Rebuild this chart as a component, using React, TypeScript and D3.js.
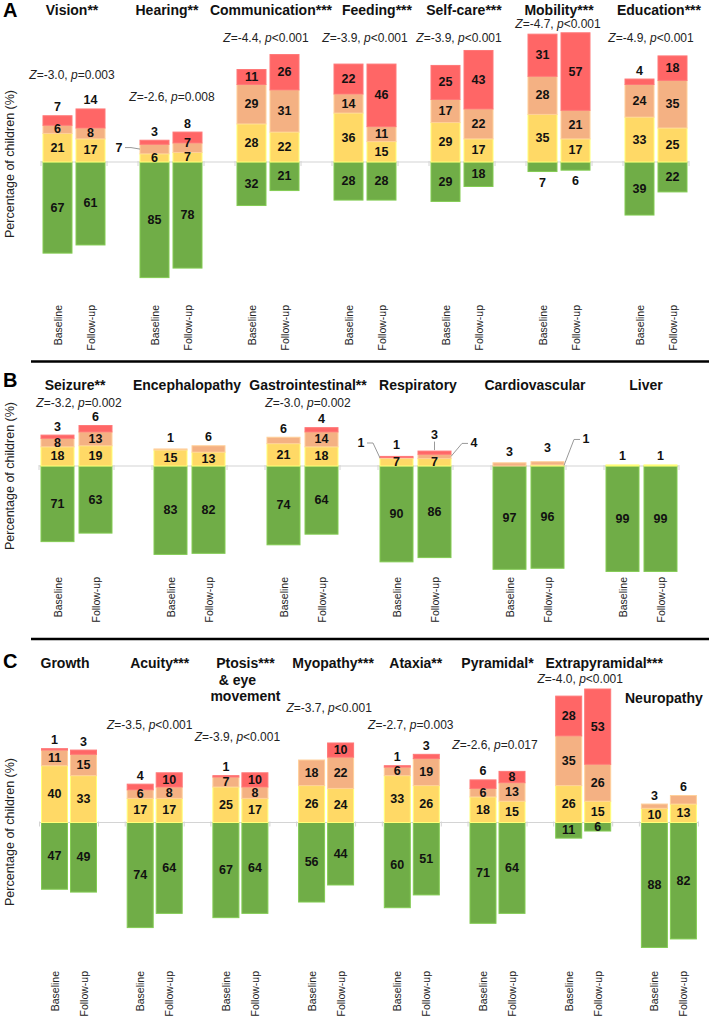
import React from 'react';
import * as d3 from 'd3';

// ---------------- DATA ----------------
const PERIODS = ['Baseline', 'Follow-up'];
const LEVEL_COLORS = ['#70ad47', '#ffd966', '#f4b183', '#ff6666']; // none, mild, moderate, severe

// Panel A
const A_TITLES = ['Vision**', 'Hearing**', 'Communication***', 'Feeding***', 'Self-care***', 'Mobility***', 'Education***'];
const A_BASELINE = [[67, 21, 6, 7], [85, 6, 7, 3], [32, 28, 29, 11], [28, 36, 14, 22], [29, 29, 17, 25], [7, 35, 28, 31], [39, 33, 24, 4]];
const A_FOLLOWUP = [[61, 17, 8, 14], [78, 7, 7, 8], [21, 22, 31, 26], [28, 15, 11, 46], [18, 17, 22, 43], [6, 17, 21, 57], [22, 25, 35, 18]];
const A_Z = ['-3.0', '-2.6', '-4.4', '-3.9', '-3.9', '-4.7', '-4.9'];
const A_P = ['=0.003', '=0.008', '<0.001', '<0.001', '<0.001', '<0.001', '<0.001'];

// Panel B
const B_TITLES = ['Seizure**', 'Encephalopathy', 'Gastrointestinal**', 'Respiratory', 'Cardiovascular', 'Liver'];
const B_BASELINE = [[71, 18, 8, 3], [83, 15, 1, 0], [74, 21, 6, 0], [90, 7, 1, 1], [97, 0, 3, 0], [99, 1, 0, 0]];
const B_FOLLOWUP = [[63, 19, 13, 6], [82, 13, 6, 0], [64, 18, 14, 4], [86, 7, 4, 3], [96, 1, 3, 0], [99, 1, 0, 0]];
const B_Z = ['-3.2', null, '-3.0', null, null, null];
const B_P = ['=0.002', null, '=0.002', null, null, null];

// Panel C
const C_TITLES = ['Growth', 'Acuity***', 'Ptosis***\n& eye\nmovement', 'Myopathy***', 'Ataxia**', 'Pyramidal*', 'Extrapyramidal***', 'Neuropathy'];
const C_BASELINE = [[47, 40, 11, 1], [74, 17, 6, 4], [67, 25, 7, 1], [56, 26, 18, 0], [60, 33, 6, 1], [71, 18, 6, 6], [11, 26, 35, 28], [88, 10, 3, 0]];
const C_FOLLOWUP = [[49, 33, 15, 3], [64, 17, 8, 10], [64, 17, 8, 10], [44, 24, 22, 10], [51, 26, 19, 3], [64, 15, 13, 8], [6, 15, 26, 53], [82, 13, 6, 0]];
const C_Z = [null, '-3.5', '-3.9', '-3.7', '-2.7', '-2.6', '-4.0', null];
const C_P = [null, '<0.001', '<0.001', '<0.001', '=0.003', '=0.017', '<0.001', null];

const Y_TITLE = 'Percentage of children (%)';

// ---------------- LAYOUT (positions / styles) ----------------
type Place = { mode: 'in' | 'above' | 'below' | 'left' | 'right'; dx?: number; dy?: number; extra?: number; stem?: boolean };
const ABOVE: Place = { mode: 'above' };
const PLACEMENT: Record<string, Place> = {
  'A:0:0:3': ABOVE, 'A:0:1:3': ABOVE,
  'A:1:0:3': ABOVE, 'A:1:0:2': { mode: 'left', dx: -21, dy: -1.5 }, 'A:1:1:3': ABOVE,
  'A:1:1:2': { mode: 'in', dy: -4.5 },
  'A:5:0:0': { mode: 'below' }, 'A:5:1:0': { mode: 'below' },
  'A:6:0:3': ABOVE,
  'B:0:0:3': ABOVE, 'B:0:1:3': ABOVE,
  'B:1:0:2': { mode: 'above', extra: 2 }, 'B:1:1:2': ABOVE,
  'B:2:0:2': ABOVE, 'B:2:1:3': ABOVE,
  'B:3:0:3': { mode: 'above', extra: 3 }, 'B:3:0:2': { mode: 'left', dx: -19, dy: -15 },
  'B:3:1:3': { mode: 'above', extra: 8, stem: true }, 'B:3:1:2': { mode: 'right', dx: 23, dy: -13 },
  'B:4:0:2': { mode: 'above', extra: 2 }, 'B:4:1:2': { mode: 'above', extra: 5 }, 'B:4:1:1': { mode: 'right', dx: 22, dy: -26 },
  'B:5:0:1': ABOVE, 'B:5:1:1': ABOVE,
  'C:0:0:3': ABOVE, 'C:0:1:3': ABOVE, 'C:1:0:3': ABOVE, 'C:2:0:3': ABOVE,
  'C:4:0:3': ABOVE, 'C:4:1:3': ABOVE, 'C:5:0:3': ABOVE, 'C:7:0:2': ABOVE, 'C:7:1:2': ABOVE,
};

interface PanelCfg {
  id: string;
  titles: string[];
  baseline: number[][];
  followup: number[][];
  z: (string | null)[];
  p: (string | null)[];
  letterY: number;
  titleY: number[];
  titleDx: number[];
  zY: number[];
  zDx: number[];
  zeroY: number;
  k: number;
  first: number;
  step: number;
  barW: number;
  gap: number;
  tickTop: number;
  axisTitleY: number;
}

const PANELS: PanelCfg[] = [
  {
    id: 'A', titles: A_TITLES, baseline: A_BASELINE, followup: A_FOLLOWUP, z: A_Z, p: A_P,
    letterY: 17, titleY: [15, 15, 15, 15, 15, 15, 15], titleDx: [-2, -4, 3, 12, 2, 0, 3],
    zY: [79, 101, 42, 42, 42, 28, 42], zDx: [-2, 1, -2, 0, -3, -1, -5],
    zeroY: 162, k: 1.36, first: 74, step: 97, barW: 29, gap: 4, tickTop: 305, axisTitleY: 164,
  },
  {
    id: 'B', titles: B_TITLES, baseline: B_BASELINE, followup: B_FOLLOWUP, z: B_Z, p: B_P,
    letterY: 387, titleY: [390, 390, 390, 390, 390, 390], titleDx: [-1.5, -2.5, 5.5, 2.5, 6.5, 4.5],
    zY: [407, 0, 407, 0, 0, 0], zDx: [2.5, 0, 5.5, 0, 0, 0],
    zeroY: 466, k: 1.065, first: 76.5, step: 113, barW: 33, gap: 5, tickTop: 577, axisTitleY: 476,
  },
  {
    id: 'C', titles: C_TITLES, baseline: C_BASELINE, followup: C_FOLLOWUP, z: C_Z, p: C_P,
    letterY: 668, titleY: [668, 668, 668, 668, 668, 668, 668, 703], titleDx: [-4, 5, 5, 7, 4, 0, 21, -5],
    zY: [0, 729, 741, 712, 729, 749, 683, 0], zDx: [0, -5, -3, 3, -1, -2.5, -3, 0],
    zeroY: 822.5, k: 1.42, first: 69, step: 85.7, barW: 26, gap: 3, tickTop: 971, axisTitleY: 832,
  },
];

const FONT = '"Liberation Sans", Arial, Helvetica, sans-serif';
const W = 709;
const H = 1018;

function Panel({ cfg }: { cfg: PanelCfg }) {
  const n = cfg.titles.length;
  const groups = d3.range(n).map(String);
  const inner = cfg.barW * 2 + cfg.gap;
  const groupX = d3
    .scaleBand<string>()
    .domain(groups)
    .range([cfg.first - cfg.step / 2, cfg.first - cfg.step / 2 + cfg.step * n])
    .paddingInner(1 - inner / cfg.step)
    .paddingOuter((1 - inner / cfg.step) / 2);
  const periodX = d3.scaleBand<string>().domain(PERIODS).range([0, inner]).paddingInner(2 - inner / (cfg.barW + cfg.gap)).paddingOuter(0);
  const y = d3.scaleLinear().domain([-100, 100]).range([cfg.zeroY + 100 * cfg.k, cfg.zeroY - 100 * cfg.k]);

  const lineX0 = (groupX('0') as number) - 2;
  const lineX1 = (groupX(String(n - 1)) as number) + groupX.bandwidth() + 2;

  const bars: React.ReactNode[] = [];
  const labels: React.ReactNode[] = [];
  const axisLabels: React.ReactNode[] = [];

  groups.forEach((g, gi) => {
    [cfg.baseline[gi], cfg.followup[gi]].forEach((vals, pi) => {
      const bx = (groupX(g) as number) + (periodX(PERIODS[pi]) as number);
      const bw = periodX.bandwidth();
      const cx = bx + bw / 2;
      const segs: { y0: number; y1: number; v: number; s: number }[] = [];
      segs.push({ y0: y(0), y1: y(-vals[0]), v: vals[0], s: 0 });
      let cum = 0;
      for (let s = 1; s < 4; s++) {
        segs.push({ y0: y(cum + vals[s]), y1: y(cum), v: vals[s], s });
        cum += vals[s];
      }
      const stackTop = y(cum);
      const stackBottom = y(-vals[0]);
      segs.forEach((sg) => {
        if (sg.v <= 0) return;
        const top = Math.min(sg.y0, sg.y1);
        const h = Math.abs(sg.y1 - sg.y0);
        const fill = LEVEL_COLORS[sg.s];
        bars.push(
          <rect key={`r${gi}-${pi}-${sg.s}`} x={bx} y={top} width={bw} height={h} fill={fill}
            stroke={d3.color(fill)!.brighter(0.45).formatHex()} strokeWidth={1} />
        );
        const key = `${cfg.id}:${gi}:${pi}:${sg.s}`;
        const pl = PLACEMENT[key];
        const mid = top + h / 2;
        let lx = cx;
        let ly = mid;
        let extra: React.ReactNode = null;
        if (pl) {
          if (pl.mode === 'in') {
            ly = mid + (pl.dy || 0);
          } else if (pl.mode === 'above') {
            ly = stackTop - 8.5 - (pl.extra || 0);
            if (pl.stem) {
              extra = <line key={`st${key}`} x1={cx} x2={cx} y1={ly + 7} y2={stackTop - 1} stroke="#999" strokeWidth={1} />;
            }
          } else if (pl.mode === 'below') {
            ly = stackBottom + 11;
          } else if (pl.mode === 'left') {
            lx = bx + (pl.dx || 0);
            ly = mid + (pl.dy || 0);
            extra = (
              <path key={`ld${key}`} d={`M${lx + 6},${ly} L${lx + 12},${ly} L${bx},${mid}`} fill="none" stroke="#999" strokeWidth={1} />
            );
          } else if (pl.mode === 'right') {
            lx = bx + bw + (pl.dx || 0);
            ly = mid + (pl.dy || 0);
            extra = (
              <path key={`ld${key}`} d={`M${lx - 6},${ly} L${lx - 12},${ly} L${bx + bw},${mid}`} fill="none" stroke="#999" strokeWidth={1} />
            );
          }
        }
        if (extra) labels.push(extra);
        labels.push(
          <text key={`t${key}`} x={lx} y={ly} textAnchor="middle" dominantBaseline="central"
            fontSize={12.5} fontWeight="bold" fill="#111">{sg.v}</text>
        );
      });
      axisLabels.push(
        <text key={`ax${gi}-${pi}`} transform={`translate(${cx},${cfg.tickTop}) rotate(-90)`} textAnchor="end"
          dominantBaseline="central" fontSize={10.5} fill="#222">{PERIODS[pi]}</text>
      );
    });
  });

  const ticks: React.ReactNode[] = [];
  groups.forEach((g, gi) => {
    const x0 = (groupX(g) as number) - 2;
    const x1 = (groupX(g) as number) + groupX.bandwidth() + 2;
    [x0, x1].forEach((tx, ti) => {
      ticks.push(<line key={`tk${gi}-${ti}`} x1={tx} x2={tx} y1={cfg.zeroY - 1} y2={cfg.zeroY + 4} stroke="#d4d4d4" strokeWidth={1} />);
    });
  });

  return (
    <g>
      <text x={3} y={cfg.letterY} fontSize={20} fontWeight="bold" fill="#000">{cfg.id}</text>
      <text transform={`translate(10,${cfg.axisTitleY}) rotate(-90)`} textAnchor="middle" dominantBaseline="central"
        fontSize={12.5} fill="#222">{Y_TITLE}</text>
      {cfg.titles.map((t, gi) => {
        const cx = (groupX(String(gi)) as number) + groupX.bandwidth() / 2 + cfg.titleDx[gi];
        const lines = t.split('\n');
        return (
          <text key={`ti${gi}`} x={cx} y={cfg.titleY[gi]} textAnchor="middle" fontSize={14} fontWeight="bold" fill="#111">
            {lines.map((ln, li) => (
              <tspan key={li} x={cx + (li === 1 ? -8 : 0)} dy={li === 0 ? 0 : 16.5}>{ln}</tspan>
            ))}
          </text>
        );
      })}
      {cfg.z.map((z, gi) => {
        if (!z) return null;
        const cx = (groupX(String(gi)) as number) + groupX.bandwidth() / 2 + cfg.zDx[gi];
        return (
          <text key={`z${gi}`} x={cx} y={cfg.zY[gi]} textAnchor="middle" fontSize={12} fill="#222">
            <tspan fontStyle="italic">Z</tspan>{`=${z}, `}<tspan fontStyle="italic">p</tspan>{cfg.p[gi]}
          </text>
        );
      })}
      <line x1={lineX0} x2={lineX1} y1={cfg.zeroY} y2={cfg.zeroY} stroke="#d4d4d4" strokeWidth={1.2} />
      {ticks}
      {bars}
      {labels}
      {axisLabels}
    </g>
  );
}

export default function App() {
  return (
    <svg width={W} height={H} viewBox={`0 0 ${W} ${H}`} style={{ position: 'absolute', left: 0, top: 0, background: '#fff' }}
      fontFamily={FONT}>
      <rect x={0} y={0} width={W} height={H} fill="#fff" />
      {PANELS.map((p) => <Panel key={p.id} cfg={p} />)}
      <line x1={31} x2={709} y1={361.5} y2={361.5} stroke="#000" strokeWidth={2.5} />
      <line x1={31} x2={709} y1={639} y2={639} stroke="#000" strokeWidth={2.5} />
    </svg>
  );
}
